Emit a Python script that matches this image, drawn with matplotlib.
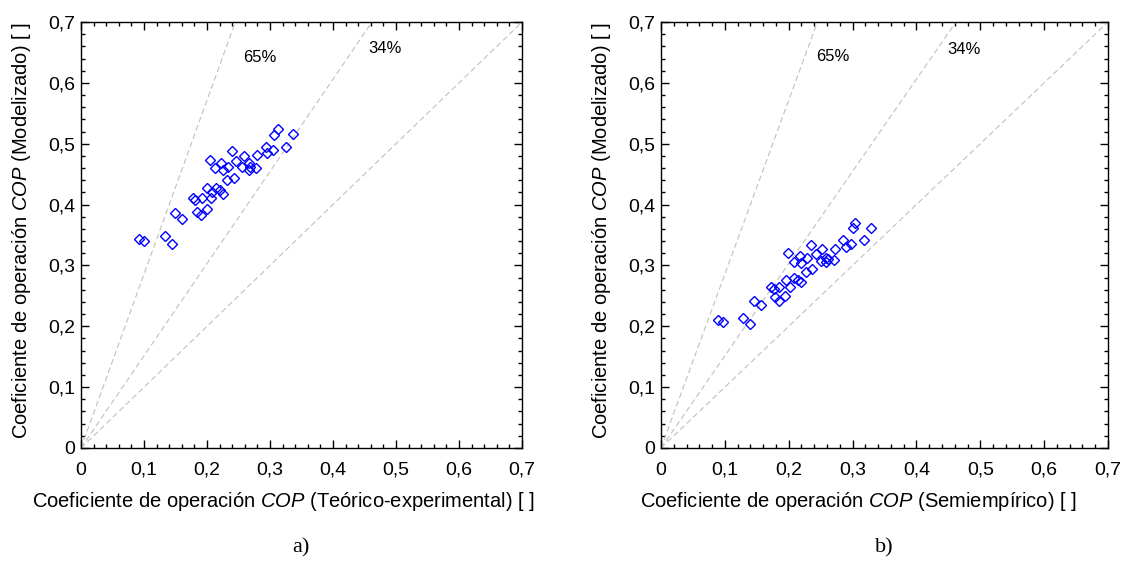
import numpy as np
import matplotlib
matplotlib.use("Agg")
import matplotlib.pyplot as plt
from matplotlib.ticker import MultipleLocator, FuncFormatter

plt.rcParams['font.family'] = ['Liberation Sans', 'DejaVu Sans']
plt.rcParams['mathtext.fontset'] = 'custom'
plt.rcParams['mathtext.rm'] = 'Liberation Sans'
plt.rcParams['mathtext.it'] = 'Liberation Sans:italic'

# a) teorico-experimental vs modelizado
x_a = [0.092, 0.100, 0.133, 0.144, 0.149, 0.160, 0.177, 0.181, 0.184, 0.191,
       0.200, 0.192, 0.200, 0.207, 0.208, 0.214, 0.221, 0.226, 0.205, 0.213,
       0.223, 0.226, 0.234, 0.231, 0.243, 0.240, 0.246, 0.258, 0.256, 0.266,
       0.266, 0.269, 0.278, 0.280, 0.293, 0.296, 0.304, 0.306, 0.312, 0.325, 0.336]
y_a = [0.343, 0.340, 0.348, 0.335, 0.386, 0.377, 0.410, 0.407, 0.388, 0.383,
       0.392, 0.411, 0.427, 0.411, 0.420, 0.428, 0.424, 0.418, 0.473, 0.460,
       0.469, 0.457, 0.462, 0.440, 0.444, 0.488, 0.472, 0.479, 0.461, 0.468,
       0.457, 0.462, 0.460, 0.481, 0.495, 0.485, 0.490, 0.515, 0.524, 0.495, 0.516]

# b) semiempirico vs modelizado
x_b = [0.089, 0.097, 0.129, 0.140, 0.145, 0.156, 0.173, 0.177, 0.179, 0.185,
       0.194, 0.185, 0.195, 0.202, 0.209, 0.215, 0.220, 0.199, 0.208, 0.218,
       0.219, 0.228, 0.227, 0.236, 0.235, 0.242, 0.252, 0.250, 0.259, 0.259,
       0.262, 0.271, 0.273, 0.285, 0.289, 0.297, 0.300, 0.304, 0.318, 0.329]
y_b = [0.210, 0.207, 0.213, 0.203, 0.242, 0.235, 0.264, 0.261, 0.248, 0.242,
       0.249, 0.265, 0.276, 0.265, 0.280, 0.276, 0.273, 0.320, 0.306, 0.316,
       0.304, 0.312, 0.290, 0.294, 0.334, 0.318, 0.327, 0.307, 0.313, 0.306,
       0.310, 0.309, 0.327, 0.342, 0.331, 0.336, 0.361, 0.370, 0.341, 0.361]

errors = [0.65, 0.34]
err_labels = ["65%", "34%"]
xlabels = [r"Coeficiente de operación $\mathit{COP}$ (Teórico-experimental) [ ]",
           r"Coeficiente de operación $\mathit{COP}$ (Semiempírico) [ ]"]
ylabel = r"Coeficiente de operación $\mathit{COP}$ (Modelizado) [ ]"
panel = ["a)", "b)"]
label_pos = [[(0.284, 0.642), (0.483, 0.657)],
             [(0.269, 0.643), (0.474, 0.655)]]
xlabel_x = [0.460, 0.441]

fig = plt.figure(figsize=(11.35, 5.67), dpi=100)
ax1 = fig.add_axes([81/1135, 1-448/567, 441/1135, 426/567])
ax2 = fig.add_axes([661/1135, 1-448/567, 447/1135, 426/567])

fmt = FuncFormatter(lambda v, p: "0" if abs(v) < 1e-9 else ("%.1f" % v).replace(".", ","))
xx = np.array([0, 0.7])

for i, (ax, xs, ys) in enumerate([(ax1, x_a, y_a), (ax2, x_b, y_b)]):
    ax.plot(xx, xx, color="#c0c0c0", lw=0.8, dashes=(5, 3))
    for e in errors:
        ax.plot(xx, xx / (1 - e), color="#c0c0c0", lw=0.8, dashes=(5, 3))
    for (tx, ty), t in zip(label_pos[i], err_labels):
        ax.text(tx, ty, t, fontsize=12, ha="center", va="center")
    ax.plot(xs, ys, "D", ms=5.5, mfc="none", mec="#0000ff", mew=1)
    ax.set_xlim(0, 0.7)
    ax.set_ylim(0, 0.7)
    ax.xaxis.set_major_locator(MultipleLocator(0.1))
    ax.yaxis.set_major_locator(MultipleLocator(0.1))
    ax.xaxis.set_minor_locator(MultipleLocator(0.02))
    ax.yaxis.set_minor_locator(MultipleLocator(0.02))
    ax.xaxis.set_major_formatter(fmt)
    ax.yaxis.set_major_formatter(fmt)
    ax.tick_params(which="both", direction="in", top=True, right=True, labelsize=14)
    ax.tick_params(which="major", length=6, width=1)
    ax.tick_params(axis="x", which="major", pad=10)
    ax.tick_params(axis="y", which="major", pad=4)
    ax.tick_params(which="minor", length=3, width=1)
    for s in ax.spines.values():
        s.set_linewidth(1)
    ax.set_xlabel(xlabels[i], fontsize=14.5)
    ax.set_ylabel(ylabel, fontsize=14.5)
    ax.xaxis.set_label_coords(xlabel_x[i], -0.098)
    ax.yaxis.set_label_coords(-0.108, 0.51)

fig.text(301/1135, 1-548/567, panel[0], fontsize=16, family="Liberation Serif", ha="center", va="center")
fig.text(884/1135, 1-548/567, panel[1], fontsize=16, family="Liberation Serif", ha="center", va="center")

fig.savefig("out.png", dpi=100)
